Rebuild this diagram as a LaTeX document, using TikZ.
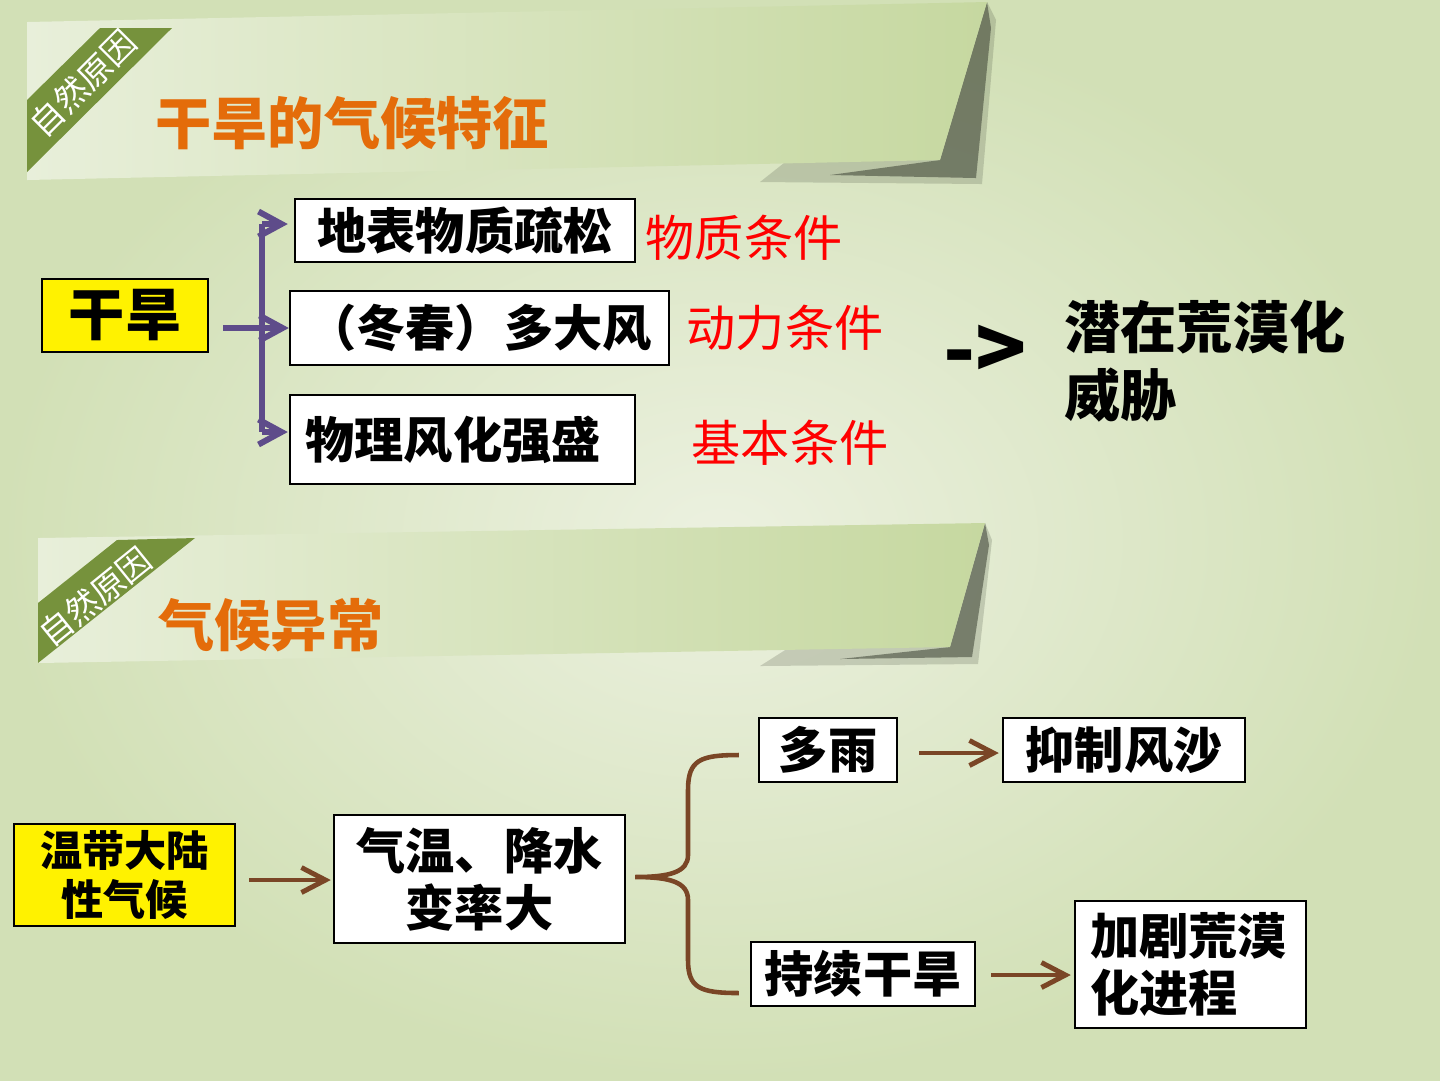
\documentclass[tikz,border=0pt]{standalone}
\usepackage{fontspec}
\setmainfont{Noto Sans CJK SC}
\usetikzlibrary{arrows.meta,calc}
\definecolor{bgin}{RGB}{236,241,224}
\definecolor{bgout}{RGB}{210,224,182}
\definecolor{bannerl}{RGB}{232,239,218}
\definecolor{bannerr}{RGB}{198,216,160}
\definecolor{tagreen}{RGB}{118,146,60}
\definecolor{titleorange}{RGB}{228,108,10}
\definecolor{linkpurple}{RGB}{94,76,138}
\definecolor{linkbrown}{RGB}{122,70,38}
\definecolor{curlshadow}{RGB}{60,66,52}
\tikzset{
  box/.style={draw=black, line width=0.7pt, fill=white, inner sep=0pt,
    font=\bfseries\fontsize{14pt}{16pt}\selectfont},
  hibox/.style={box, fill=yellow},
  cond/.style={text=red, font=\fontsize{14pt}{16pt}\selectfont},
  heading/.style={anchor=west, text=titleorange, font=\bfseries\fontsize{16pt}{18pt}\selectfont},
  tag/.style={text=white, inner sep=0pt, font=\fontsize{9.5pt}{10pt}\selectfont},
  purplelink/.style={draw=linkpurple, line width=1.7pt, -{Straight Barb[length=2.3mm,width=2.5mm]}},
  brownlink/.style={draw=linkbrown, line width=1.4pt, -{Straight Barb[length=2.4mm,width=2.5mm]}},
}
\begin{document}
\begin{tikzpicture}[x=0.1mm, y=-0.1mm]
    % background
    \useasboundingbox (0,0) rectangle (1440,1080);
    \shade[inner color=bgin, outer color=bgout] (0,0) rectangle (1440,1080);

    % banners
    %% top
    \fill[curlshadow, opacity=.2] (760,182) -- (982,184) -- (996,20) -- (987,2) -- cycle;
    \fill[curlshadow, opacity=.55] (830,175) -- (976,178) -- (991,28) -- (987,2) -- (940,160) -- cycle;
    \shade[left color=bannerl, right color=bannerr] (27,22) -- (987,2) -- (940,160) -- (27,180) -- cycle;
    \fill[tagreen] (27,100) -- (100,28) -- (172,28) -- (27,172) -- cycle;
    \node[tag, rotate=45] (tag1) at (83,83) {自然原因};
    \node[heading] (title1) at (143,123) {干旱的气候特征};
    %% bottom
    \fill[curlshadow, opacity=.2] (760,666) -- (978,664) -- (992,540) -- (985,523) -- cycle;
    \fill[curlshadow, opacity=.55] (840,659) -- (972,657) -- (989,545) -- (985,523) -- (950,647) -- cycle;
    \shade[left color=bannerl, right color=bannerr] (38,538) -- (985,523) -- (950,647) -- (38,663) -- cycle;
    \fill[tagreen] (38,603) -- (117,540) -- (195,538) -- (38,663) -- cycle;
    \node[tag, rotate=39] (tag2) at (95,597) {自然原因};
    \node[heading] (title2) at (146,625) {气候异常};

    % dry climate
    \node[hibox, minimum width=16.6mm, minimum height=7.3mm,
      font=\bfseries\fontsize{16pt}{18pt}\selectfont] (ganhan) at (125,315.5) {干旱};
    \node[box, minimum width=34mm, minimum height=6.3mm] (dibiao) at (465,230.5) {地表物质疏松};
    \node[box, minimum width=37.9mm, minimum height=7.4mm] (dongchun) at (479.5,328) {（冬春）多大风};
    \node[box, minimum height=8.9mm, text width=31.4mm, inner xsep=1.55mm, align=left] (wuli) at (462.5,439.5) {物理风化强盛};
    \node[cond] (wuzhi) at (744,238) {物质条件};
    \node[cond] (dongli) at (785,328) {动力条件};
    \node[cond] (jiben) at (790,443) {基本条件};
    \node[font=\bfseries\fontsize{24pt}{26pt}\selectfont] (jiantou) at (985,352) {->};
    \node[anchor=west, align=left, font=\bfseries\fontsize{16pt}{19.3pt}\selectfont] (qianzai) at (1052,361) {潜在荒漠化\\威胁};

    %% purple fork
    \coordinate (forkmid) at ($(ganhan.east)+(14,12.5)$);
    \coordinate (forktop) at (262,224);
    \coordinate (forkbot) at (262,432);
    \draw[linkpurple, line width=1.7pt] (forktop) -- (forkbot);
    \draw[purplelink] (forkmid) -- (forkmid -| dongchun.west);
    \draw[purplelink] (forktop) -- ($(forktop -| dibiao.west)+(-6,0)$);
    \draw[purplelink] (forkbot) -- ($(forkbot -| wuli.west)+(-1,0)$);

    % climate anomaly
    \node[hibox, minimum width=22.1mm, minimum height=10.2mm, align=center,
      font=\bfseries\fontsize{12pt}{13.7pt}\selectfont] (wendai) at (124.5,875) {温带大陆\\性气候};
    \node[box, minimum width=29.1mm, minimum height=12.8mm, align=center,
      font=\bfseries\fontsize{14pt}{16.2pt}\selectfont] (qiwen) at (479.5,879) {气温、降水\\变率大};
    \node[box, minimum width=13.8mm, minimum height=6.4mm] (duoyu) at (828,750) {多雨};
    \node[box, minimum width=24.2mm, minimum height=6.4mm] (yizhi) at (1124,750) {抑制风沙};
    \node[box, minimum width=22.4mm, minimum height=6.4mm] (chixu) at (863,974) {持续干旱};
    \node[box, minimum height=12.7mm, text width=20.1mm, inner xsep=1.5mm, align=left,
      font=\bfseries\fontsize{14pt}{16.2pt}\selectfont] (jiaju) at (1190.5,964.5) {加剧荒漠\\化进程};

    %% brown links
    \draw[brownlink] ($(wendai.east)+(13,5)$) -- ($(wendai.east -| qiwen.west)+(-2,5)$);
    \coordinate (bracetip) at ($(qiwen.east)+(9,-2)$);
    \coordinate (bracetop) at ($(duoyu.west)+(-19,5)$);
    \coordinate (bracebot) at ($(chixu.west)+(-11,19)$);
    \draw[linkbrown, line width=1.3pt] (bracetop) .. controls (700,755) and (688,760) .. (688,790)
      -- (688,855) .. controls (688,872) and (670,877) .. (bracetip)
      .. controls (670,877) and (688,882) .. (688,900)
      -- (688,960) .. controls (688,988) and (700,993) .. (bracebot);
    \draw[brownlink] ($(duoyu.east)+(21,3)$) -- ($(duoyu.east -| yizhi.west)+(-3,3)$);
    \draw[brownlink] ($(chixu.east)+(15,1)$) -- ($(chixu.east -| jiaju.west)+(-3,1)$);
\end{tikzpicture}
\end{document}
